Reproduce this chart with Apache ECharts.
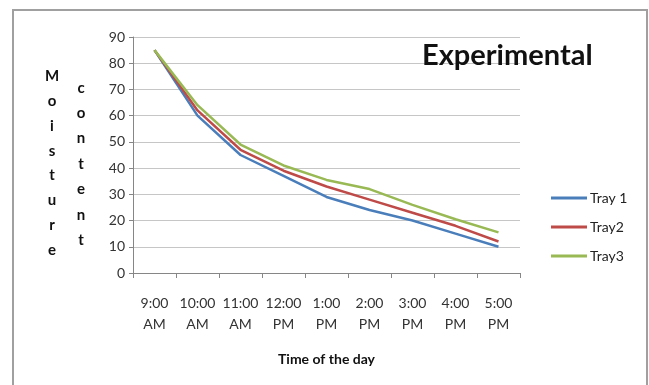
<!DOCTYPE html>
<html>
<head>
<meta charset="utf-8">
<script src="https://cdn.jsdelivr.net/npm/echarts@6/dist/echarts.min.js"></script>
<style>
  html, body { margin: 0; padding: 0; background: #fff; }
  #chart { width: 649px; height: 385px; }
</style>
</head>
<body>
<div id="chart"></div>
<script>
// time of day categories
const hours = ['9:00\nAM', '10:00\nAM', '11:00\nAM', '12:00\nPM', '1:00\nPM', '2:00\nPM', '3:00\nPM', '4:00\nPM', '5:00\nPM'];
// moisture content per tray
const tray1 = [85, 60, 45, 37, 29, 24, 20, 15, 10];
const tray2 = [85, 62, 47, 39, 33, 28, 23, 18, 12];
const tray3 = [85, 64, 49, 41, 35.5, 32, 26, 20.5, 15.5];

const fontFam = 'Lato, "Open Sans", sans-serif';

let chart = echarts.init(document.getElementById('chart'));
chart.setOption({
  animation: false,
  textStyle: { fontFamily: fontFam },
  title: [{
    text: 'Experimental',
    left: 417,
    top: 36,
    textStyle: { fontSize: 29, fontWeight: 'bold', color: '#111', fontFamily: fontFam }
  }, {
    text: 'M\no\ni\ns\nt\nu\nr\ne',
    left: 47,
    top: 59,
    textAlign: 'center',
    textStyle: { fontSize: 15, fontWeight: 'bold', color: '#111', lineHeight: 24.8, fontFamily: fontFam }
  }, {
    text: 'c\no\nn\nt\ne\nn\nt',
    left: 76,
    top: 70,
    textAlign: 'center',
    textStyle: { fontSize: 15, fontWeight: 'bold', color: '#111', lineHeight: 25.4, fontFamily: fontFam }
  }],
  graphic: [{
    type: 'rect',
    shape: { x: 13, y: 10, width: 634, height: 400 },
    style: { fill: 'none', stroke: '#a0a0a0', lineWidth: 2 },
    silent: true
  }],
  legend: {
    orient: 'vertical',
    left: 546,
    top: 186,
    itemWidth: 36,
    itemHeight: 3,
    itemGap: 15,
    icon: 'rect',
    textStyle: { fontSize: 14, color: '#222', fontFamily: fontFam, padding: [0, 0, 0, -2] }
  },
  grid: { left: 133, right: 129, top: 37, bottom: 112 },
  xAxis: {
    type: 'category',
    data: hours,
    name: 'Time of the day',
    nameLocation: 'middle',
    nameGap: 79,
    nameTextStyle: { fontSize: 14, fontWeight: 'bold', color: '#111' },
    axisLine: { lineStyle: { color: '#868686', width: 1 } },
    axisTick: { show: true, length: 5, inside: false, lineStyle: { color: '#868686' } },
    axisLabel: { color: '#333', fontSize: 14, lineHeight: 21, margin: 20, interval: 0 }
  },
  yAxis: {
    type: 'value',
    min: 0,
    max: 90,
    interval: 10,
    axisLine: { show: true, lineStyle: { color: '#868686', width: 1 } },
    axisTick: { show: true, length: 4, lineStyle: { color: '#868686' } },
    axisLabel: { color: '#333', fontSize: 14, margin: 8 },
    splitLine: { lineStyle: { color: '#c6c6c6', width: 1 } }
  },
  series: [{
    name: 'Tray 1',
    type: 'line',
    data: tray1,
    symbol: 'none',
    color: '#4a7ebb',
    lineStyle: { width: 2.5 }
  }, {
    name: 'Tray2',
    type: 'line',
    data: tray2,
    symbol: 'none',
    color: '#be4b48',
    lineStyle: { width: 2.5 }
  }, {
    name: 'Tray3',
    type: 'line',
    data: tray3,
    symbol: 'none',
    color: '#98b954',
    lineStyle: { width: 2.5 }
  }]
});
</script>
</body>
</html>
